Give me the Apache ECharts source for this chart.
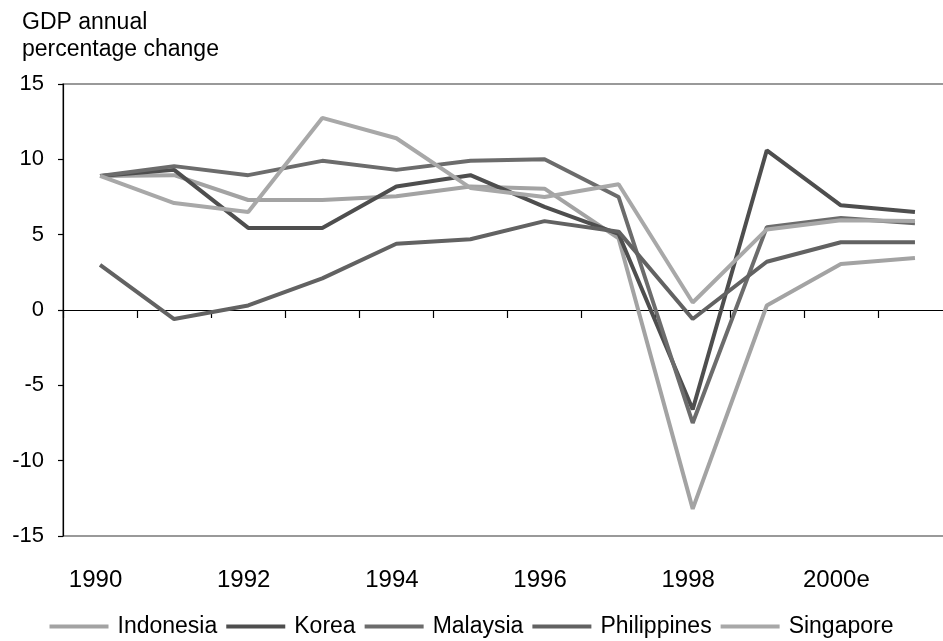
<!DOCTYPE html>
<html>
<head>
<meta charset="utf-8">
<script src="https://cdn.jsdelivr.net/npm/echarts@6/dist/echarts.min.js"></script>
<style>html,body{margin:0;padding:0;background:#fff}#c{width:943px;height:641px}</style>
</head>
<body>
<div id="c"></div>
<script>
const years = ['1990','1991','1992','1993','1994','1995','1996','1997','1998','1999','2000e','2001e'];
const indonesia   = [8.9, 8.95, 7.3, 7.3, 7.55, 8.2, 8.05, 4.75, -13.2, 0.3, 3.05, 3.45];
const korea       = [8.9, 9.3, 5.45, 5.45, 8.2, 8.95, 6.85, 5.05, -6.6, 10.6, 6.95, 6.5];
const malaysia    = [8.9, 9.55, 8.95, 9.9, 9.3, 9.9, 10.0, 7.5, -7.5, 5.5, 6.1, 5.75];
const philippines = [3.0, -0.6, 0.3, 2.1, 4.4, 4.7, 5.9, 5.2, -0.6, 3.2, 4.5, 4.5];
const singapore   = [8.9, 7.1, 6.5, 12.75, 11.4, 8.1, 7.5, 8.35, 0.5, 5.35, 5.95, 5.9];
const yTicks = { min: -15, max: 15, interval: 5 };

const font = 'Liberation Sans, Arial, sans-serif';
const colors = ['#a3a3a3', '#4e4e4e', '#6c6c6c', '#626262', '#a8a8a8'];
const names = ['Indonesia', 'Korea', 'Malaysia', 'Philippines', 'Singapore'];
const datas = [indonesia, korea, malaysia, philippines, singapore];

const chart = echarts.init(document.getElementById('c'));
chart.setOption({
  animation: false,
  backgroundColor: '#fff',
  color: colors,
  title: {
    text: 'GDP annual\npercentage change',
    left: 17, top: 4,
    textStyle: { fontFamily: font, fontSize: 23, fontWeight: 'normal', color: '#000', lineHeight: 27 }
  },
  legend: {
    data: names,
    left: 'center', top: 615, padding: 0,
    itemWidth: 59, itemHeight: 4, itemGap: 9,
    icon: 'rect',
    textStyle: { fontFamily: font, fontSize: 23, color: '#000', padding: [0, 0, 0, 4] }
  },
  grid: {
    left: 63, top: 84, height: 452, width: 889,
    outerBoundsMode: 'none', containLabel: false,
    show: true, borderColor: '#787878', borderWidth: 1.5, backgroundColor: 'transparent'
  },
  xAxis: [
    {
      type: 'category', data: years, boundaryGap: true,
      axisLine: { onZero: true, lineStyle: { color: '#000', width: 1.2 } },
      axisTick: { show: true, interval: 0, length: 8, lineStyle: { color: '#000', width: 1.2 } },
      axisLabel: { show: false },
      splitLine: { show: false }
    },
    {
      type: 'category', data: years, boundaryGap: true, position: 'bottom',
      axisLine: { show: false, onZero: false },
      axisTick: { show: false },
      axisLabel: { show: true, interval: 1, margin: 32, fontFamily: font, fontSize: 24, color: '#000', padding: [0, 9, 0, 0] },
      splitLine: { show: false }
    }
  ],
  yAxis: {
    type: 'value', min: yTicks.min, max: yTicks.max, interval: yTicks.interval,
    axisLine: { show: true, lineStyle: { color: '#000', width: 1.2 } },
    axisTick: { show: true, length: 5, lineStyle: { color: '#000', width: 1.2 } },
    axisLabel: { fontFamily: font, fontSize: 22, color: '#000', margin: 19 },
    splitLine: { show: false }
  },
  series: names.map((n, i) => ({
    name: n, type: 'line', data: datas[i], xAxisIndex: 0,
    symbol: 'none', lineStyle: { width: 4, color: colors[i] },
    itemStyle: { color: colors[i] }
  }))
});
</script>
</body>
</html>
